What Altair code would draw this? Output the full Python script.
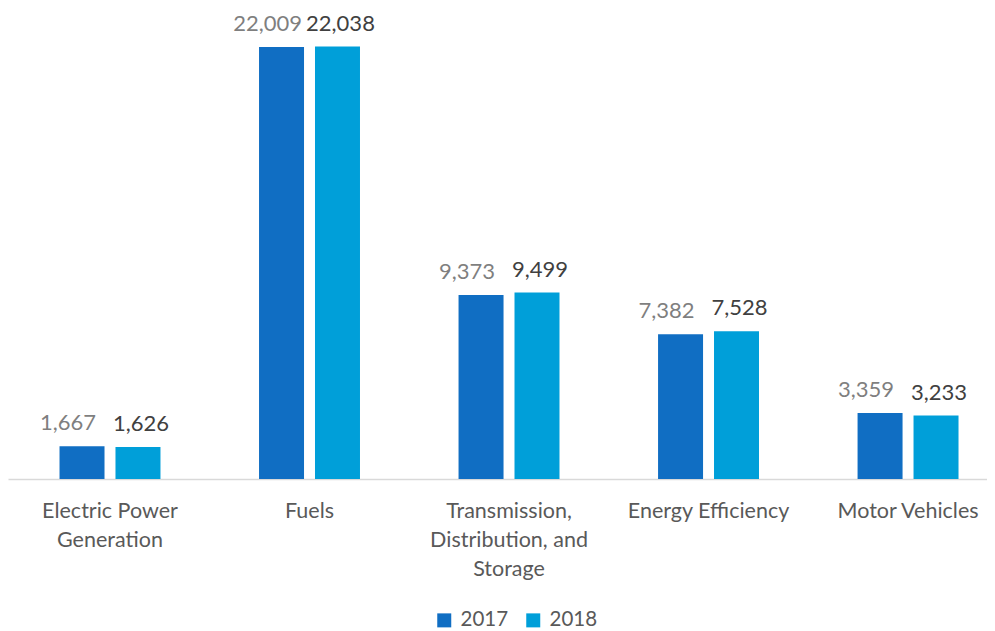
import altair as alt
import pandas as pd

categories = ["Electric Power Generation", "Fuels", "Transmission, Distribution, and Storage",
              "Energy Efficiency", "Motor Vehicles"]
label_lines = [["Electric Power", "Generation"], ["Fuels"],
               ["Transmission,", "Distribution, and", "Storage"],
               ["Energy Efficiency"], ["Motor Vehicles"]]
years = ["2017", "2018"]
values_2017 = [1667, 22009, 9373, 7382, 3359]
values_2018 = [1626, 22038, 9499, 7528, 3233]

rows = []
for c, a, b in zip(categories, values_2017, values_2018):
    rows.append({"category": c, "year": "2017", "value": a})
    rows.append({"category": c, "year": "2018", "value": b})
df = pd.DataFrame(rows)

expr = "''"
for c, lines in zip(categories, label_lines):
    arr = "[" + ",".join("'" + l + "'" for l in lines) + "]"
    expr = f"datum.value == '{c}' ? {arr} : ({expr})"

FONT = "Lato"

x = alt.X("category:N", sort=categories, title=None,
          scale=alt.Scale(paddingInner=0.494, paddingOuter=0.2005, align=0.644),
          axis=alt.Axis(labelExpr=expr, labelAngle=0, labelFontSize=21.5, labelFont=FONT,
                        labelColor="#595959", labelLineHeight=29, labelPadding=21,
                        ticks=False, domainColor="#d9d9d9", domainWidth=1.5,
                        labelLimit=300))
y = alt.Y("value:Q", scale=alt.Scale(domain=[0, 24000]), axis=None)
xo = alt.XOffset("year:N", sort=years, scale=alt.Scale(paddingInner=0.196, paddingOuter=0))

bars = alt.Chart(df).mark_bar().encode(
    x=x, y=y, xOffset=xo,
    color=alt.Color("year:N", sort=years,
                    scale=alt.Scale(domain=years, range=["#106EC3", "#009FD9"]),
                    legend=alt.Legend(title=None, orient="none", legendX=426, legendY=602,
                                      direction="horizontal", symbolType="square",
                                      symbolSize=196, symbolStrokeWidth=0,
                                      labelFontSize=20.5, labelFont=FONT, labelColor="#595959",
                                      columnPadding=14, labelOffset=6))
)

text_2017 = alt.Chart(df).transform_filter(alt.datum.year == "2017").mark_text(
    fontSize=22, font=FONT, baseline="alphabetic", dy=-16, dx=-14, color="#7f7f7f"
).encode(x=x, y=y, xOffset=xo, text=alt.Text("value:Q", format=","))

text_2018 = alt.Chart(df).transform_filter(alt.datum.year == "2018").mark_text(
    fontSize=22, font=FONT, baseline="alphabetic", dy=-16, dx=3, color="#404040"
).encode(x=x, y=y, xOffset=xo, text=alt.Text("value:Q", format=","))

chart = alt.layer(bars, text_2017, text_2018).properties(
    width=979, height=471, padding=0
).configure_view(stroke=None)

chart.save("out.html", embed_options={"renderer": "svg", "actions": False})
